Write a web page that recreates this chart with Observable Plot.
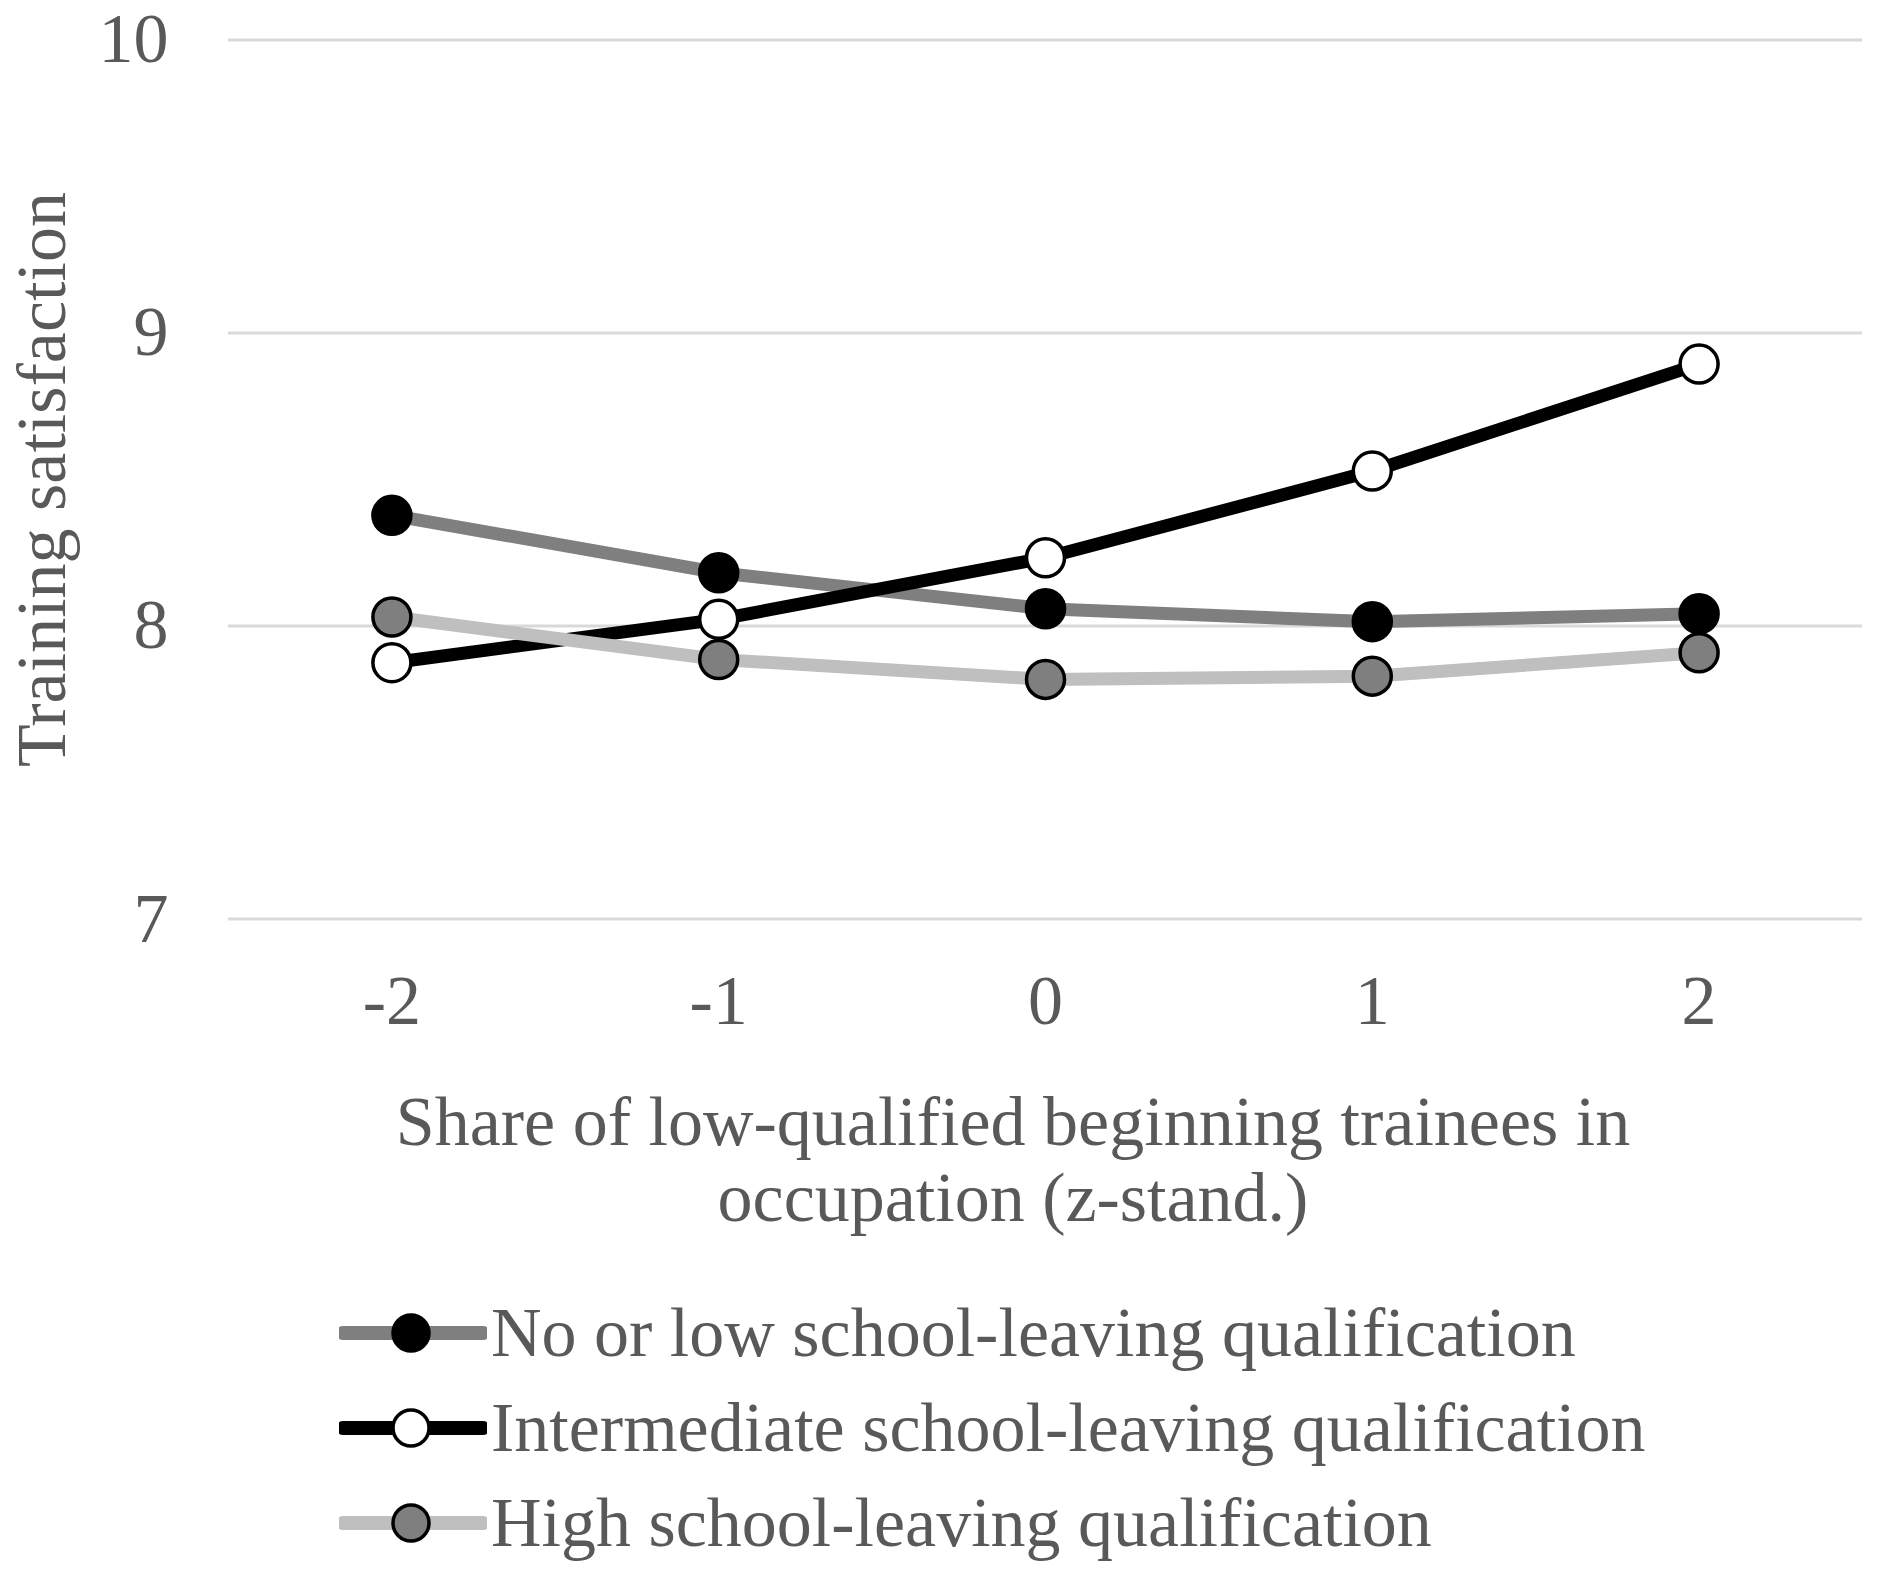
<!DOCTYPE html>
<html>
<head>
<meta charset="utf-8">
<script src="https://cdn.jsdelivr.net/npm/d3@7"></script>
<script src="https://cdn.jsdelivr.net/npm/@observablehq/plot@0.6"></script>
<style>
  html, body { margin: 0; padding: 0; background: #fff; }
  body { width: 1878px; height: 1581px; position: relative; font-family: "Liberation Serif", "Times New Roman", serif; color: #595959; overflow: hidden; }
  #chart { position: absolute; left: 0; top: 0; }
  .xtitle { position: absolute; left: 1013px; transform: translateX(-50%); font-size: 70px; line-height: 76px; text-align: center; white-space: nowrap; top: 1084px; }
  .leg { position: absolute; left: 339px; height: 80px; display: flex; align-items: center; font-size: 70px; white-space: nowrap; }
  .leg svg { margin-right: 4px; }
</style>
</head>
<body>
<div id="chart"></div>
<div class="xtitle">Share of low-qualified beginning trainees in<br>occupation (z-stand.)</div>
<div id="legend"></div>
<script>
// ---- data ----
const xValues = [-2, -1, 0, 1, 2];
const noLow = [8.378, 8.182, 8.059, 8.015, 8.042];
const intermediate = [7.875, 8.023, 8.233, 8.529, 8.894];
const high = [8.031, 7.886, 7.818, 7.829, 7.909];
const seriesNames = [
  "No or low school-leaving qualification",
  "Intermediate school-leaving qualification",
  "High school-leaving qualification"
];
const yTicks = [7, 8, 9, 10];
const yLabel = "Training satisfaction";

// ---- styles ----
const lineColors = ["#7f7f7f", "#000000", "#bfbfbf"];
const dotFills = ["#000000", "#ffffff", "#7f7f7f"];
const seriesValues = [noLow, intermediate, high];

const rows = seriesValues.map((vals, i) =>
  xValues.map((x, j) => ({x, y: vals[j], s: seriesNames[i]}))
);

const marks = [
  Plot.ruleY(yTicks, {stroke: "#d9d9d9", strokeWidth: 3}),
  Plot.axisY({ticks: yTicks, tickSize: 0, tickPadding: 60, fontSize: 70, label: null, tickFormat: d => String(d)}),
  Plot.axisX({ticks: xValues, tickSize: 0, tickPadding: 55, fontSize: 70, label: null,
    tickFormat: d => (d < 0 ? "-" + Math.abs(d) : String(d))}),
  Plot.text([yLabel], {frameAnchor: "left", textAnchor: "middle", rotate: -90, dx: -186, text: d => d, fontSize: 70, fill: "#595959"})
];
rows.forEach((data, i) => {
  marks.push(Plot.line(data, {x: "x", y: "y", stroke: lineColors[i], strokeWidth: 13, strokeLinejoin: "round", strokeLinecap: "round"}));
  marks.push(Plot.dot(data, {x: "x", y: "y", r: 19, fill: dotFills[i], stroke: "#000", strokeWidth: 3.5}));
});

const chart = Plot.plot({
  width: 1878,
  height: 1060,
  marginTop: 39.5,
  marginBottom: 141.4,
  marginLeft: 228,
  marginRight: 16,
  x: {domain: [-2.5, 2.5]},
  y: {domain: [7, 10]},
  style: {fontFamily: "Liberation Serif", color: "#595959", background: "#fff"},
  marks
});
document.getElementById("chart").appendChild(chart);

// ---- legend ----
const legendTops = [1293, 1388, 1483];
const legend = document.getElementById("legend");
seriesNames.forEach((name, i) => {
  const item = document.createElement("div");
  item.className = "leg";
  item.style.top = legendTops[i] + "px";
  item.innerHTML = `<svg width="148" height="48" viewBox="0 0 148 48">
      <line x1="4" y1="24" x2="144" y2="24" stroke="${lineColors[i]}" stroke-width="14" stroke-linecap="round"/>
      <circle cx="72" cy="24" r="18" fill="${dotFills[i]}" stroke="#000" stroke-width="3.5"/>
    </svg><span>${name}</span>`;
  legend.appendChild(item);
});
</script>
</body>
</html>
